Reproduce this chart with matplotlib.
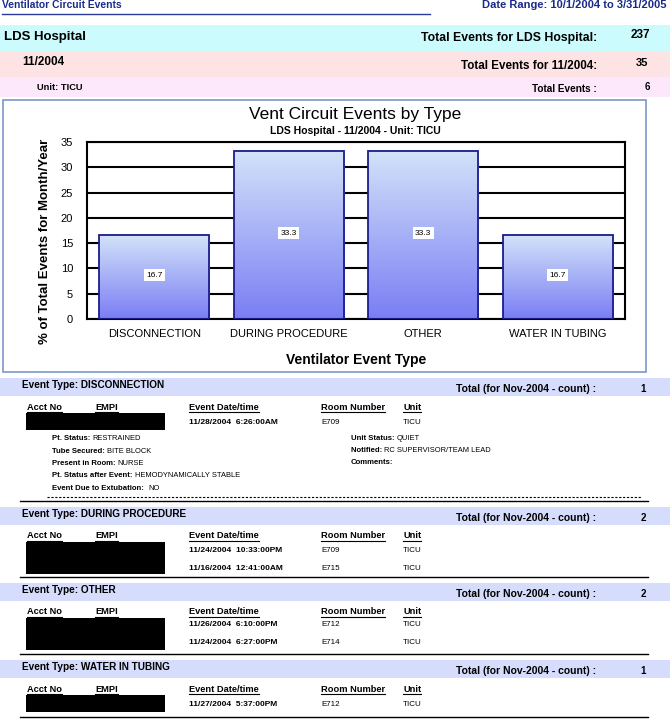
import numpy as np
import matplotlib.pyplot as plt
from matplotlib.patches import Rectangle
from matplotlib.lines import Line2D
from matplotlib.colors import LinearSegmentedColormap

W, H = 670, 719

# ---- data ----
event_types = ["DISCONNECTION", "DURING PROCEDURE", "OTHER", "WATER IN TUBING"]
pct_values = [16.7, 33.3, 33.3, 16.7]
event_counts = [1, 2, 2, 1]
y_ticks = [0, 5, 10, 15, 20, 25, 30, 35]

hospital_total = 237
month_total = 35
unit_total = 6

event_dates = [
    ["11/28/2004  6:26:00AM"],
    ["11/24/2004  10:33:00PM", "11/16/2004  12:41:00AM"],
    ["11/26/2004  6:10:00PM", "11/24/2004  6:27:00PM"],
    ["11/27/2004  5:37:00PM"],
]
event_rooms = [["E709"], ["E709", "E715"], ["E712", "E714"], ["E712"]]
event_units = [["TICU"], ["TICU", "TICU"], ["TICU", "TICU"], ["TICU"]]

detail_left = [("Pt. Status: ", "RESTRAINED"), ("Tube Secured: ", "BITE BLOCK"),
               ("Present in Room: ", "NURSE"),
               ("Pt. Status after Event: ", "HEMODYNAMICALLY STABLE"),
               ("Event Due to Extubation:  ", "NO")]
detail_right = [("Unit Status: ", "QUIET"), ("Notified: ", "RC SUPERVISOR/TEAM LEAD"),
                ("Comments:", "")]

col_headers = ["Acct No", "EMPI", "Event Date/time", "Room Number", "Unit"]

plt.rcParams['font.family'] = ['Liberation Sans', 'DejaVu Sans']
fig = plt.figure(figsize=(W / 100, H / 100), dpi=100)


def fx(x):
    return x / W


def fy(y):
    return 1 - y / H


def band(y0, y1, color, x0=0, x1=W):
    fig.add_artist(Rectangle((fx(x0), fy(y1)), fx(x1 - x0), (y1 - y0) / H,
                             transform=fig.transFigure, facecolor=color,
                             edgecolor="none", zorder=-3))


def hline(y, x0, x1, **kw):
    fig.add_artist(Line2D([fx(x0), fx(x1)], [fy(y), fy(y)],
                          transform=fig.transFigure, **kw))


def txt(x, y, s, **kw):
    return fig.text(fx(x), fy(y), s, va="center", **kw)


# ---- page header ----
txt(2, 5, "Ventilator Circuit Events", fontsize=7.4, fontweight="bold", color="#1a2a8a")
txt(667, 5, "Date Range: 10/1/2004 to 3/31/2005", fontsize=8, fontweight="bold",
    color="#1a2a8a", ha="right")
hline(14, 2, 430, color="#2a3a9a", lw=1)

band(25, 52, "#ccfbfd")
txt(4, 37, "LDS Hospital", fontsize=9.5, fontweight="bold")
txt(597, 38, "Total Events for LDS Hospital:", fontsize=8.8, fontweight="bold", ha="right")
txt(650, 35, str(hospital_total), fontsize=8.5, fontweight="bold", ha="right")

band(52, 77, "#fde3e3")
txt(22, 62, "11/2004", fontsize=8.5, fontweight="bold")
txt(597, 66, "Total Events for 11/2004:", fontsize=8.4, fontweight="bold", ha="right")
txt(648, 63, str(month_total), fontsize=8, fontweight="bold", ha="right")

band(77, 97, "#fce7fb")
txt(37, 87, "Unit: TICU", fontsize=6.7, fontweight="bold")
txt(597, 89, "Total Events :", fontsize=7.2, fontweight="bold", ha="right")
txt(650, 87, str(unit_total), fontsize=7, fontweight="bold", ha="right")

# ---- chart box ----
fig.add_artist(Rectangle((fx(3), fy(372)), fx(643), 272 / H, transform=fig.transFigure,
                         facecolor="white", edgecolor="#7a98c8", lw=1.2, zorder=-2))

ax = fig.add_axes([fx(87), fy(319), fx(538), 177 / H])
ax.set_facecolor("white")
x = np.arange(len(event_types))
bw = 0.82
cmap = LinearSegmentedColormap.from_list("bar", ["#7a7ef4", "#d3e3f9"])
grad = np.linspace(0, 1, 256).reshape(-1, 1)
for xi, v in zip(x, pct_values):
    ax.imshow(grad, cmap=cmap, extent=(xi - bw / 2, xi + bw / 2, 0, v),
              origin="lower", aspect="auto", zorder=2)
ax.bar(x, pct_values, width=bw, facecolor="none", edgecolor="#1c1c8c", lw=1.3, zorder=3)
for xi, v in zip(x, pct_values):
    ax.text(xi, v / 2 + 0.3, f"{v:.1f}", ha="center", va="center", fontsize=6,
            zorder=4, bbox=dict(facecolor="white", edgecolor="none", pad=1.8))
ax.set_xlim(-0.5, len(event_types) - 0.5)
ax.set_ylim(0, 35)
ax.set_yticks(y_ticks)
ax.set_xticks(x)
ax.set_xticklabels(event_types, fontsize=8)
ax.tick_params(axis="y", labelsize=8, length=0, pad=10)
ax.tick_params(axis="x", length=0, pad=7)
ax.grid(axis="y", color="black", lw=1.5, zorder=1)
ax.set_axisbelow(True)
for s in ax.spines.values():
    s.set_linewidth(1.5)
ax.set_ylabel("% of Total Events for Month/Year", fontsize=9.5, fontweight="bold")
ax.yaxis.set_label_coords(-0.066, 0.44)
ax.set_xlabel("Ventilator Event Type", fontsize=10, fontweight="bold", labelpad=10)
txt(355, 115, "Vent Circuit Events by Type", fontsize=12.5, ha="center")
txt(355, 131, "LDS Hospital - 11/2004 - Unit: TICU", fontsize=7.5, fontweight="bold",
    ha="center")

# ---- event sections ----
band_tops = [378, 507, 583, 660]
col_x = [27, 95, 189, 321, 403]
underlined = []
for k, etype in enumerate(event_types):
    top = band_tops[k]
    band(top, top + 18, "#d6dcfc")
    txt(22, top + 7, "Event Type: " + etype, fontsize=7.2, fontweight="bold")
    txt(456, top + 11, "Total (for Nov-2004 - count) :", fontsize=7.5, fontweight="bold")
    txt(646, top + 11, str(event_counts[k]), fontsize=7, fontweight="bold", ha="right")
    hy = top + 29
    for cx, ch in zip(col_x, col_headers):
        t = txt(cx, hy, ch, fontsize=6.7, fontweight="bold")
        underlined.append((t, hy + 5))
    n = len(event_dates[k])
    row_gap = 17 if k != 2 else 19
    first = hy + 15 if k != 2 else hy + 12
    box_h = max(17, n * 16)
    fig.add_artist(Rectangle((fx(26), fy(hy + 6 + box_h)), fx(139), box_h / H,
                             transform=fig.transFigure, facecolor="black",
                             edgecolor="none", zorder=1))
    for r in range(n):
        ry = first + r * row_gap
        txt(189, ry, event_dates[k][r], fontsize=6, fontweight="bold")
        txt(321, ry, event_rooms[k][r], fontsize=5.8)
        txt(403, ry, event_units[k][r], fontsize=5.8)
    if k == 0:
        for i, (lab, val) in enumerate(detail_left):
            t = txt(52, 439 + i * 12.3, lab, fontsize=5.6, fontweight="bold")
            underlined.append((t, None))
        for i, (lab, val) in enumerate(detail_right):
            t = txt(351, 439 + i * 12, lab, fontsize=5.6, fontweight="bold")
            underlined.append((t, None))
        hline(497, 47, 642, color="black", lw=0.8, ls=(0, (2, 1.5)))
        hline(501, 20, 648, color="black", lw=1)
    else:
        end_y = [0, 577, 654, 717][k]
        hline(end_y, 20, 648, color="black", lw=1)

# underline headers and append detail values after their labels
fig.canvas.draw()
r = fig.canvas.get_renderer()
detail_vals = [v for _, v in detail_left] + [v for _, v in detail_right]
di = 0
for t, uy in underlined:
    bb = t.get_window_extent(r)
    if uy is not None:
        fig.add_artist(Line2D([bb.x0 / W, bb.x1 / W], [fy(uy), fy(uy)],
                              transform=fig.transFigure, color="black", lw=0.8))
    else:
        x_px = bb.x1
        y_fig = t.get_position()[1]
        fig.text(x_px / W, y_fig, detail_vals[di], va="center", fontsize=5.4)
        di += 1

fig.savefig("out.png", dpi=100)
